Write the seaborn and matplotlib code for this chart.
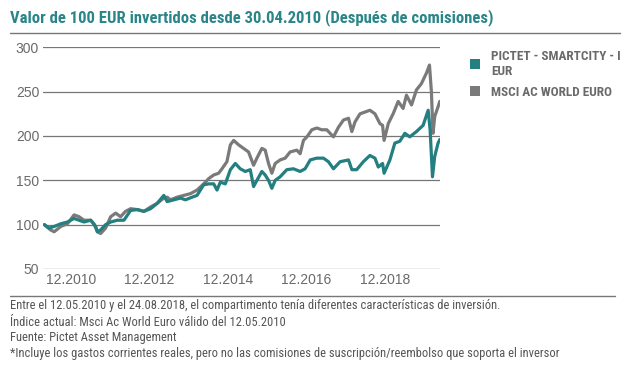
import matplotlib

matplotlib.use("Agg")
import matplotlib.pyplot as plt
import matplotlib.dates as mdates
from matplotlib.lines import Line2D
from matplotlib.patches import Patch
import pandas as pd
import seaborn as sns

# %% Data
FUND = "PICTET - SMARTCITY - I EUR"
INDEX = "MSCI AC WORLD EURO"

index_dates = [
    "2010-04-30", "2010-06-28", "2010-07-30", "2010-09-30", "2010-12-01",
    "2011-01-31", "2011-03-18", "2011-05-04", "2011-07-05", "2011-08-04",
    "2011-09-05", "2011-10-05", "2011-11-20", "2012-01-07", "2012-02-22",
    "2012-04-08", "2012-05-24", "2012-07-10", "2012-09-10", "2012-11-11",
    "2013-01-12", "2013-03-14", "2013-05-15", "2013-06-15", "2013-07-16",
    "2013-09-16", "2013-11-17", "2014-01-18", "2014-03-20", "2014-05-21",
    "2014-07-07", "2014-08-22", "2014-10-07", "2014-11-07", "2014-12-23",
    "2015-01-24", "2015-02-24", "2015-04-11", "2015-05-27", "2015-07-12",
    "2015-08-28", "2015-09-28", "2015-11-13", "2015-12-14", "2016-01-14",
    "2016-02-14", "2016-03-16", "2016-05-01", "2016-06-17", "2016-08-02",
    "2016-10-03", "2016-11-03", "2016-12-04", "2017-01-05", "2017-02-20",
    "2017-04-07", "2017-05-23", "2017-07-09", "2017-09-09", "2017-10-26",
    "2017-12-11", "2018-01-27", "2018-02-27", "2018-03-29", "2018-05-14",
    "2018-06-29", "2018-08-14", "2018-09-30", "2018-11-15", "2018-12-10",
    "2018-12-24", "2019-02-01", "2019-03-18", "2019-05-04", "2019-06-19",
    "2019-07-20", "2019-09-05", "2019-10-21", "2019-12-06", "2020-01-22",
    "2020-02-19", "2020-03-08", "2020-03-23", "2020-04-08", "2020-05-09",
    "2020-05-25",
]
index_values = [
    100, 94, 92, 98, 101,
    111, 109, 105, 105, 101,
    92, 90, 96, 109, 113,
    109, 115, 118, 117, 115,
    120, 124, 130, 131, 128,
    131, 133, 135, 139, 146,
    152, 156, 158, 163, 171,
    190, 195, 190, 186, 182,
    167, 175, 186, 184, 169,
    158, 169, 173, 175, 182,
    184, 180, 195, 199, 207,
    209, 207, 207, 199, 210,
    218, 220, 205, 216, 225,
    227, 229, 225, 214, 212,
    195, 214, 225, 239, 231,
    246, 235, 252, 259, 271,
    280, 250, 203, 222, 233,
    239,
]

fund_dates = [
    "2010-04-30", "2010-06-13", "2010-07-30", "2010-09-30", "2010-12-01",
    "2011-01-31", "2011-03-18", "2011-05-04", "2011-07-05", "2011-08-20",
    "2011-09-05", "2011-10-05", "2011-11-20", "2012-01-07", "2012-03-08",
    "2012-05-09", "2012-07-10", "2012-09-10", "2012-11-11", "2013-01-12",
    "2013-03-14", "2013-05-15", "2013-06-15", "2013-08-16", "2013-10-17",
    "2013-12-02", "2014-02-02", "2014-03-20", "2014-05-21", "2014-07-07",
    "2014-08-22", "2014-09-22", "2014-10-23", "2014-12-08", "2015-01-24",
    "2015-03-11", "2015-04-26", "2015-06-12", "2015-07-28", "2015-08-28",
    "2015-09-28", "2015-11-13", "2015-12-14", "2016-01-14", "2016-02-14",
    "2016-03-16", "2016-05-01", "2016-07-02", "2016-09-02", "2016-11-03",
    "2016-12-19", "2017-02-05", "2017-04-07", "2017-06-08", "2017-07-24",
    "2017-09-09", "2017-11-10", "2018-01-27", "2018-02-27", "2018-04-13",
    "2018-06-14", "2018-08-14", "2018-09-30", "2018-10-31", "2018-12-10",
    "2018-12-24", "2019-02-16", "2019-04-03", "2019-05-19", "2019-07-05",
    "2019-08-20", "2019-10-21", "2019-12-22", "2020-02-07", "2020-02-25",
    "2020-03-18", "2020-04-08", "2020-05-09", "2020-05-25",
]
fund_values = [
    100, 96, 98, 101, 103,
    107, 105, 103, 105, 98,
    92, 94, 100, 103, 105,
    105, 116, 117, 115, 118,
    124, 133, 126, 128, 130,
    128, 131, 133, 145, 146,
    146, 139, 148, 146, 162,
    169, 163, 160, 162, 143,
    150, 160, 156, 150, 141,
    150, 154, 162, 163, 160,
    163, 173, 175, 175, 171,
    163, 171, 173, 162, 162,
    171, 178, 175, 165, 169,
    158, 173, 192, 194, 203,
    199, 205, 212, 229, 207,
    154, 177, 192, 196,
]

y_ticks = [50, 100, 150, 200, 250, 300]
x_tick_dates = ["2010-12-31", "2012-12-31", "2014-12-31", "2016-12-31", "2018-12-31"]

notes = [
    "Entre el 12.05.2010 y el 24.08.2018, el compartimento tenía diferentes características de inversión.",
    "Índice actual: Msci Ac World Euro válido del 12.05.2010",
    "Fuente: Pictet Asset Management",
    "*Incluye los gastos corrientes reales, pero no las comisiones de suscripción/reembolso que soporta el inversor",
]

# %% Long-form frame
df = pd.concat(
    [
        pd.DataFrame({"date": pd.to_datetime(index_dates), "value": index_values, "serie": INDEX}),
        pd.DataFrame({"date": pd.to_datetime(fund_dates), "value": fund_values, "serie": FUND}),
    ],
    ignore_index=True,
)

TEAL = "#247f80"
GREY = "#7a7a7a"
TEXT = "#6a6a6a"
PALETTE = {FUND: TEAL, INDEX: GREY}
NARROW = ["Roboto Condensed", "DejaVu Sans"]

sns.set_style("white")
plt.rcParams["font.family"] = ["Liberation Sans", "DejaVu Sans"]

# %% Plot
fig = plt.figure(figsize=(6.27, 3.77), dpi=100)
ax = fig.add_axes([43.3 / 627, 1 - 269 / 377, (440 - 43.3) / 627, (269 - 47.3) / 377])

sns.lineplot(
    data=df, x="date", y="value", hue="serie", hue_order=[INDEX, FUND],
    palette=PALETTE, lw=2.3, ax=ax, legend=False,
)

ax.set_ylim(50, 300)
ax.set_xlim(pd.Timestamp("2010-04-20"), pd.Timestamp("2020-05-27"))
ax.set_yticks(y_ticks)
ax.set_xticks(pd.to_datetime(x_tick_dates))
ax.xaxis.set_major_formatter(mdates.DateFormatter("%m.%Y"))
ax.grid(axis="y", color="#777777", lw=0.9)
ax.set_axisbelow(True)
for s in ax.spines.values():
    s.set_visible(False)
ax.tick_params(axis="both", length=0, labelsize=10, labelcolor=TEXT, pad=3)
ax.set_xlabel("")
ax.set_ylabel("")

# legend
handles = [
    Patch(facecolor=TEAL, edgecolor="none", label="PICTET - SMARTCITY - I\nEUR"),
    Patch(facecolor=GREY, edgecolor="none", label=INDEX),
]
fig.legend(
    handles=handles, loc="upper left", bbox_to_anchor=(458 / 627, 1 - 38 / 377),
    frameon=False, handlelength=0.8, handleheight=0.8, handletextpad=0.8,
    labelspacing=0.6, prop={"family": NARROW, "size": 9.5, "weight": "bold"}, labelcolor=TEXT,
)

# title, rules and notes
fig.text(10 / 627, 1 - 18 / 377, "Valor de 100 EUR invertidos desde 30.04.2010 (Después de comisiones)",
         color="#2a8588", fontsize=12, fontweight="bold", family=NARROW, va="center", ha="left")
fig.add_artist(Line2D([10 / 627, 620 / 627], [1 - 33 / 377] * 2, color="#777777", lw=1))
fig.add_artist(Line2D([10 / 627, 615 / 627], [1 - 296 / 377] * 2, color="#777777", lw=1))
for i, line in enumerate(notes):
    fig.text(10 / 627, 1 - (306 + i * 16) / 377, line, color="#555555", fontsize=9,
             family=NARROW, va="center", ha="left")

fig.savefig("out.png", dpi=100)
